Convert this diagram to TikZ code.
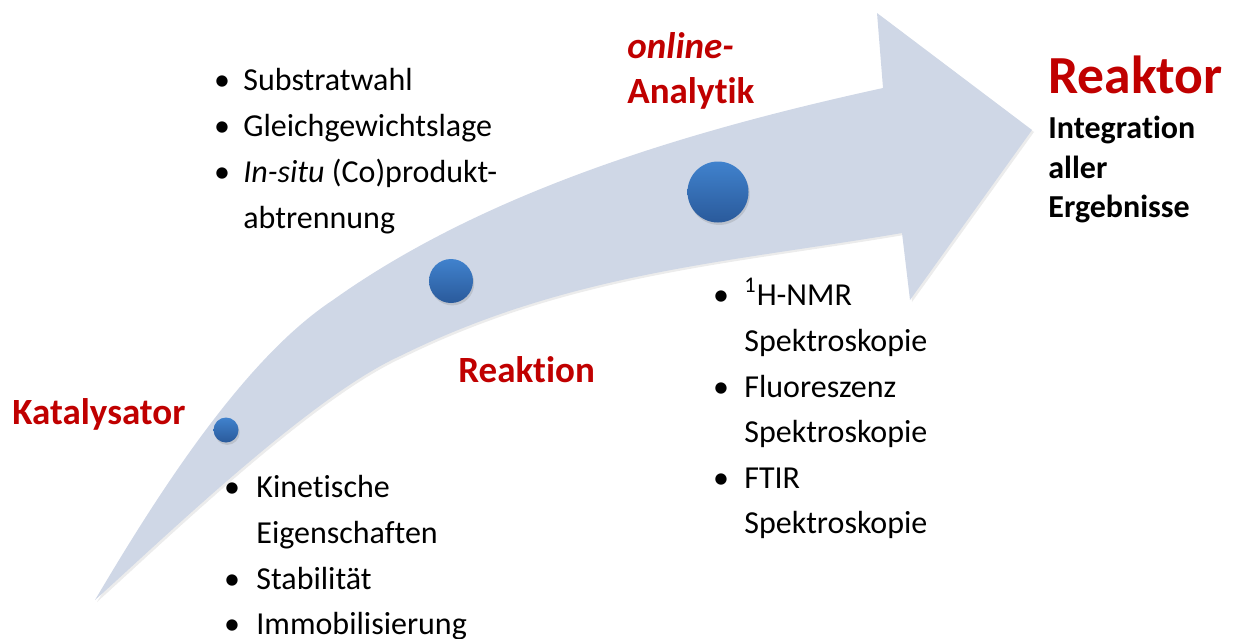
\documentclass[tikz,border=0pt]{standalone}
\usepackage{fontspec}
\setmainfont{Carlito}[Ligatures=CommonOff]
\usepackage{xcolor}
\usepackage{tikz}
\usetikzlibrary{shadows}
\definecolor{arrowgray}{RGB}{207,215,230}
\definecolor{darkred}{RGB}{192,0,0}
\definecolor{dotlight}{RGB}{64,130,205}
\definecolor{dotdark}{RGB}{42,90,155}
\tikzset{
	main node/.style={circle,top color=dotlight,bottom color=dotdark,inner sep=0pt,
		drop shadow={opacity=0.25,shadow xshift=0.6pt,shadow yshift=-1.2pt}},
	head text/.style={font=\fontsize{18.5}{22}\selectfont\bfseries,text=darkred,anchor=base west,inner sep=0pt},
	item text/.style={font=\fontsize{16}{19}\selectfont,anchor=base west,inner sep=0pt},
	bullet text/.style={font=\fontsize{16}{19}\selectfont,anchor=base,inner sep=0pt},
	result text/.style={font=\fontsize{16}{19}\selectfont\bfseries,anchor=base west,inner sep=0pt}
}

\begin{document}
\begin{tikzpicture}[x=0.5pt,y=-0.5pt]
	\useasboundingbox (0,0) rectangle (1235,638);
	\fill[arrowgray,drop shadow={opacity=0.15,shadow xshift=1pt,shadow yshift=-1pt}]
		(95,600) .. controls (160,490) and (245,358) .. (333,300)
		.. controls (490,188) and (700,128) .. (883,88)
		-- (877,13) -- (1032,130) -- (910,300) -- (902,233)
		.. controls (732,262) and (570,272) .. (400,356)
		.. controls (310,397) and (165,537) .. (95,600)
		-- cycle;
	\node [main node,minimum size=12.5pt] (1) at (226,430) {};
	\node [main node,minimum size=22pt] (2) at (451,281) {};
	\node [main node,minimum size=30.5pt] (3) at (718,192) {};
	\node [head text] (4) at (12,424) {Katalysator};
	\node [head text] (5) at (458,382) {Reaktion};
	\node [head text] (6) at (627,58) {\itshape online-};
	\node [head text] (7) at (627,103) {Analytik};
	\node [head text,font=\fontsize{26.8}{30}\selectfont\bfseries] (8) at (1048,93) {Reaktor};
	\node [result text] (9) at (1048,138) {Integration};
	\node [result text] (10) at (1048,178) {aller};
	\node [result text] (11) at (1048,217) {Ergebnisse};
	\node [bullet text] (12) at (222,90) {\textbullet};
	\node [item text] (13) at (243,90) {Substratwahl};
	\node [bullet text] (14) at (222,136) {\textbullet};
	\node [item text] (15) at (243,136) {Gleichgewichtslage};
	\node [bullet text] (16) at (222,182) {\textbullet};
	\node [item text] (17) at (243,182) {\textit{In-situ} (Co)produkt-};
	\node [item text] (18) at (243,228) {abtrennung};
	\node [bullet text] (19) at (232,497) {\textbullet};
	\node [item text] (20) at (256,497) {Kinetische};
	\node [item text] (21) at (256,543) {Eigenschaften};
	\node [bullet text] (22) at (232,589) {\textbullet};
	\node [item text] (23) at (256,589) {Stabilität};
	\node [bullet text] (24) at (232,634) {\textbullet};
	\node [item text] (25) at (256,634) {Immobilisierung};
	\node [bullet text] (26) at (721,305) {\textbullet};
	\node [item text] (27) at (744,305) {\textsuperscript{1}H-NMR};
	\node [item text] (28) at (744,351) {Spektroskopie};
	\node [bullet text] (29) at (721,397) {\textbullet};
	\node [item text] (30) at (744,397) {Fluoreszenz};
	\node [item text] (31) at (744,442) {Spektroskopie};
	\node [bullet text] (32) at (721,488) {\textbullet};
	\node [item text] (33) at (744,488) {FTIR};
	\node [item text] (34) at (744,533) {Spektroskopie};
\end{tikzpicture}
\end{document}
